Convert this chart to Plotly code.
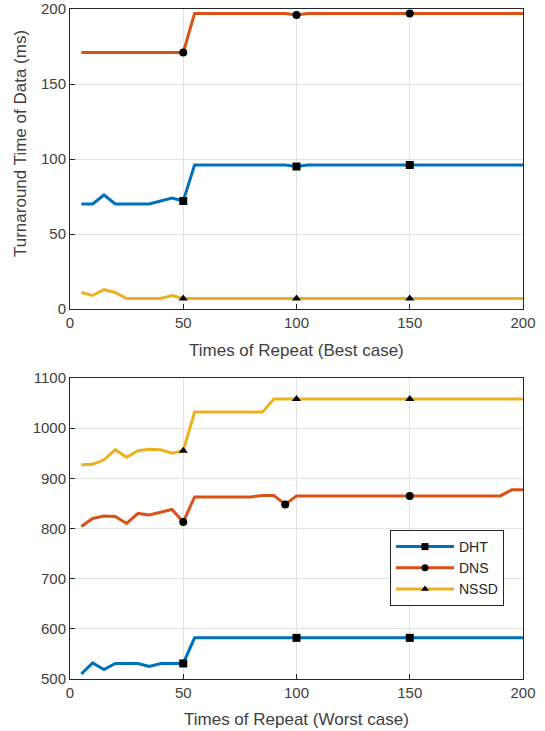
import plotly.graph_objects as go

x_vals = list(range(5, 205, 5))

# Best case (top)
dht_best = [70, 70, 76, 70, 70, 70, 70, 72, 74, 72,
            96, 96, 96, 96, 96, 96, 96, 96, 96, 95,
            96, 96, 96, 96, 96, 96, 96, 96, 96, 96,
            96, 96, 96, 96, 96, 96, 96, 96, 96, 96]
dns_best = [171, 171, 171, 171, 171, 171, 171, 171, 171, 171,
            197, 197, 197, 197, 197, 197, 197, 197, 197, 196,
            197, 197, 197, 197, 197, 197, 197, 197, 197, 197,
            197, 197, 197, 197, 197, 197, 197, 197, 197, 197]
nssd_best = [11, 9, 13, 11, 7, 7, 7, 7, 9, 7,
             7, 7, 7, 7, 7, 7, 7, 7, 7, 7,
             7, 7, 7, 7, 7, 7, 7, 7, 7, 7,
             7, 7, 7, 7, 7, 7, 7, 7, 7, 7]

# Worst case (bottom)
dht_worst = [510, 532, 519, 531, 531, 531, 525, 531, 531, 531,
             582, 582, 582, 582, 582, 582, 582, 582, 582, 582,
             582, 582, 582, 582, 582, 582, 582, 582, 582, 582,
             582, 582, 582, 582, 582, 582, 582, 582, 582, 582]
dns_worst = [804, 820, 825, 824, 810, 830, 827, 832, 838, 813,
             863, 863, 863, 863, 863, 863, 866, 866, 848, 865,
             865, 865, 865, 865, 865, 865, 865, 865, 865, 865,
             865, 865, 865, 865, 865, 865, 865, 865, 877, 877]
nssd_worst = [927, 928, 937, 957, 942, 955, 958, 957, 950, 955,
              1032, 1032, 1032, 1032, 1032, 1032, 1032, 1058, 1058, 1058,
              1058, 1058, 1058, 1058, 1058, 1058, 1058, 1058, 1058, 1058,
              1058, 1058, 1058, 1058, 1058, 1058, 1058, 1058, 1058, 1058]

series_names = ["DHT", "DNS", "NSSD"]
marker_x_best = {"DHT": [50, 100, 150], "DNS": [50, 100, 150], "NSSD": [50, 100, 150]}
marker_x_worst = {"DHT": [50, 100, 150], "DNS": [50, 95, 150], "NSSD": [50, 100, 150]}

x_ticks = [0, 50, 100, 150, 200]
y_ticks_best = [0, 50, 100, 150, 200]
y_ticks_worst = [500, 600, 700, 800, 900, 1000, 1100]

colors = {"DHT": "#0072BD", "DNS": "#D95319", "NSSD": "#EDB120"}
symbols = {"DHT": "square", "DNS": "circle", "NSSD": "triangle-up"}

fig = go.Figure()

def add_series(name, ys, mx, xa, ya, legend):
    fig.add_trace(go.Scatter(x=x_vals, y=ys, mode="lines", line=dict(color=colors[name], width=3),
                             xaxis=xa, yaxis=ya, showlegend=False, hoverinfo="skip"))
    my = [ys[x_vals.index(v)] for v in mx]
    fig.add_trace(go.Scatter(x=mx, y=my, mode="markers",
                             marker=dict(color="black", symbol=symbols[name], size=8),
                             xaxis=xa, yaxis=ya, showlegend=False, hoverinfo="skip"))
    if legend:
        fig.add_trace(go.Scatter(x=[None], y=[None], mode="lines+markers", name=name,
                                 line=dict(color=colors[name], width=3),
                                 marker=dict(color="black", symbol=symbols[name], size=7),
                                 xaxis=xa, yaxis=ya, showlegend=True))

best = {"DHT": dht_best, "DNS": dns_best, "NSSD": nssd_best}
worst = {"DHT": dht_worst, "DNS": dns_worst, "NSSD": nssd_worst}
for n in series_names:
    add_series(n, best[n], marker_x_best[n], "x", "y", False)
for n in series_names:
    add_series(n, worst[n], marker_x_worst[n], "x2", "y2", True)

W, H = 545, 731
FONT = "Liberation Sans, Arial, sans-serif"
axcol = "#262626"
tickfont = dict(family=FONT, size=15, color="#404040")
titlefont = dict(family=FONT, size=17, color="#404040")

common_x = dict(range=[0, 200], tickvals=x_ticks, showgrid=True, gridcolor="#e3e3e3",
                showline=True, linecolor=axcol, linewidth=1, mirror=True, ticks="inside",
                ticklen=5, tickcolor=axcol, zeroline=False, tickfont=tickfont, automargin=False)
common_y = dict(showgrid=True, gridcolor="#e3e3e3", showline=True, linecolor=axcol, linewidth=1,
                mirror=True, ticks="inside", ticklen=5, tickcolor=axcol, zeroline=False,
                tickfont=tickfont, automargin=False)

fig.update_layout(
    width=W, height=H, margin=dict(l=0, r=0, t=0, b=0, autoexpand=False),
    paper_bgcolor="white", plot_bgcolor="white",
    xaxis=dict(domain=[70 / W, 523 / W], anchor="y", **common_x),
    yaxis=dict(domain=[1 - 309 / H, 1 - 9 / H], anchor="x", range=[0, 200],
               tickvals=y_ticks_best, **common_y),
    xaxis2=dict(domain=[70 / W, 523 / W], anchor="y2", **common_x),
    yaxis2=dict(domain=[1 - 679 / H, 1 - 378 / H], anchor="x2", range=[500, 1100],
                tickvals=y_ticks_worst, **common_y),
    legend=dict(x=390 / W, y=1 - 530 / H, xanchor="left", yanchor="top",
                bgcolor="white", bordercolor=axcol, borderwidth=1,
                font=dict(family=FONT, size=14, color="#262626"),
                tracegroupgap=0, itemwidth=58),
    showlegend=True,
    annotations=[
        dict(text="Times of Repeat (Best case)", xref="paper", yref="paper",
             x=296.5 / W, y=1 - 350 / H, xanchor="center", yanchor="middle",
             showarrow=False, font=titlefont),
        dict(text="Times of Repeat (Worst case)", xref="paper", yref="paper",
             x=296.5 / W, y=1 - 719 / H, xanchor="center", yanchor="middle",
             showarrow=False, font=titlefont),
        dict(text="Turnaround Time of Data (ms)", xref="paper", yref="paper",
             x=20 / W, y=1 - 144 / H, xanchor="center", yanchor="middle",
             textangle=-90, showarrow=False, font=titlefont),
    ],
)

fig.write_html("out.html")
